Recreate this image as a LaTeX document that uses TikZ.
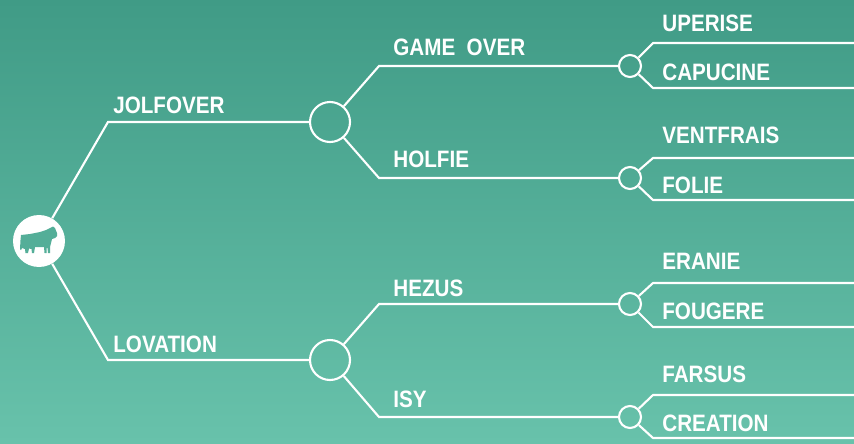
\documentclass[tikz,border=0pt]{standalone}
\usepackage{fontspec}
\newfontfamily\lblfont{Liberation Sans}[FakeStretch=0.87]
\definecolor{bgtop}{RGB}{64,155,134}
\definecolor{bgbottom}{RGB}{104,194,171}

\begin{document}
\begin{tikzpicture}[x=0.02cm, y=-0.02cm,
    branch style/.style={draw=white, line width=1.2pt},
    hub style/.style={circle, draw=white, line width=1.2pt, inner sep=0pt, minimum size=0.8cm},
    leaf style/.style={circle, draw=white, line width=1.2pt, inner sep=0pt, minimum size=0.44cm},
    name style/.style={anchor=base west, text=white, inner sep=0pt,
        font=\lblfont\bfseries\fontsize{13.5}{16}\selectfont},]
    \useasboundingbox (0,0) rectangle (854,443);
    \shade[top color=bgtop, bottom color=bgbottom] (0,0) rectangle (854,443);

    % circles
    \node[circle, fill=white, inner sep=0pt, minimum size=1.04cm] (root) at (39,241) {};
    \node[style=hub style] (hubA) at (330,122) {};
    \node[style=hub style] (hubB) at (330,360) {};
    \node[style=leaf style] (leafA) at (630,66) {};
    \node[style=leaf style] (leafB) at (630,178) {};
    \node[style=leaf style] (leafC) at (630,304) {};
    \node[style=leaf style] (leafD) at (630,417) {};

    % bends
    \coordinate (rim) at (854,0);
    \coordinate (kA) at (108,122);
    \coordinate (kB) at (108,360);
    \coordinate (kA1) at (379,66);
    \coordinate (kA2) at (379,178);
    \coordinate (kB1) at (379,304);
    \coordinate (kB2) at (379,417);
    \coordinate (kAu) at (653,43);
    \coordinate (kAd) at (653,88);
    \coordinate (kBu) at (653,158);
    \coordinate (kBd) at (653,200);
    \coordinate (kCu) at (653,283);
    \coordinate (kCd) at (653,327);
    \coordinate (kDu) at (653,395);
    \coordinate (kDd) at (653,438);

    \draw[style=branch style] (root) -- (kA) -- (hubA);
    \draw[style=branch style] (root) -- (kB) -- (hubB);

    \draw[style=branch style] (hubA) -- (kA1) -- (leafA);
    \draw[style=branch style] (hubA) -- (kA2) -- (leafB);
    \draw[style=branch style] (hubB) -- (kB1) -- (leafC);
    \draw[style=branch style] (hubB) -- (kB2) -- (leafD);

    \draw[style=branch style] (leafA) -- (kAu) -- (kAu -| rim);
    \draw[style=branch style] (leafA) -- (kAd) -- (kAd -| rim);
    \draw[style=branch style] (leafB) -- (kBu) -- (kBu -| rim);
    \draw[style=branch style] (leafB) -- (kBd) -- (kBd -| rim);
    \draw[style=branch style] (leafC) -- (kCu) -- (kCu -| rim);
    \draw[style=branch style] (leafC) -- (kCd) -- (kCd -| rim);
    \draw[style=branch style] (leafD) -- (kDu) -- (kDu -| rim);
    \draw[style=branch style] (leafD) -- (kDd) -- (kDd -| rim);

    % the bull
    \fill[bgtop!50!bgbottom] (21,235) -- (30,234) -- (40,232) -- (46,230) -- (50,228)
        -- (53,226.5) -- (55,228) -- (57,233) -- (57,236) -- (55,238) -- (52,239)
        -- (51,243) -- (50,247) -- (50,253) -- (48,253) -- (47.5,248) -- (46.5,248)
        -- (46.5,253) -- (44.5,253) -- (44,247) -- (35,247) -- (34,253) -- (32,253)
        -- (31.5,249) -- (29,248.5) -- (28,253) -- (25.5,253) -- (25,249) -- (22,248)
        -- (21,250) -- (20,249) -- (20.5,240) -- cycle;

    \node[style=name style] (jolfover) at (113,113) {JOLFOVER};
    \node[style=name style] (lovation) at (113,352) {LOVATION};
    \node[style=name style] (gameover) at (393,55) {GAME\ \ OVER};
    \node[style=name style] (holfie) at (393,167) {HOLFIE};
    \node[style=name style] (hezus) at (393,296) {HEZUS};
    \node[style=name style] (isy) at (393,407) {ISY};
    \node[style=name style] (uperise) at (662,31) {UPERISE};
    \node[style=name style] (capucine) at (662,80) {CAPUCINE};
    \node[style=name style] (ventfrais) at (662,143) {VENTFRAIS};
    \node[style=name style] (folie) at (662,193) {FOLIE};
    \node[style=name style] (eranie) at (662,269) {ERANIE};
    \node[style=name style] (fougere) at (662,319) {FOUGERE};
    \node[style=name style] (farsus) at (662,382) {FARSUS};
    \node[style=name style] (creation) at (662,431) {CREATION};

\end{tikzpicture}
\end{document}
